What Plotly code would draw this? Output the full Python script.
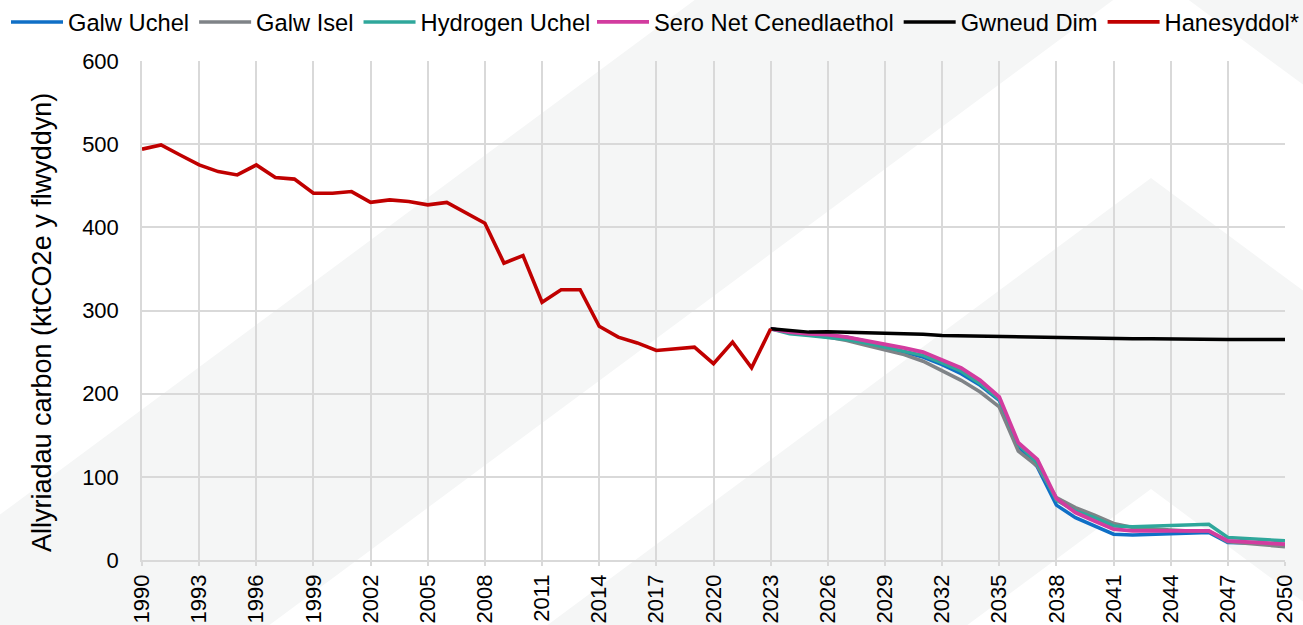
import plotly.graph_objects as go

# ---- data -------------------------------------------------------------
hist_years = list(range(1990, 2024))
hanesyddol = [494, 499, 487, 475, 467, 463, 475, 460, 458, 441,
              441, 443, 430, 433, 431, 427, 430, 417, 405, 357,
              366, 310, 325, 325, 281, 268, 261, 252, 254, 256,
              236, 262, 231, 278]

scen_years = list(range(2023, 2051))
galw_uchel = [278, 274, 272, 270, 268, 263, 256, 250, 244, 235,
              224, 210, 192, 137, 112, 66, 51, 41, 31, 30,
              31, 32, 33, 33, 21, 21, 20, 18]
galw_isel = [278, 274, 271, 268, 264, 258, 253, 247, 239, 227,
             216, 202, 184, 131, 113, 75, 63, 54, 44, 39,
             37, 36, 35, 35, 22, 20, 19, 16]
hydrogen_uchel = [278, 272, 270, 268, 265, 261, 256, 252, 246, 237,
                  227, 212, 193, 139, 117, 72, 59, 51, 41, 40,
                  41, 42, 43, 43, 27, 26, 25, 23]
sero_net = [278, 274, 272, 271, 268, 264, 259, 255, 250, 241,
            231, 216, 196, 141, 121, 74, 57, 47, 37, 35,
            35, 35, 35, 35, 23, 22, 21, 19]
gwneud_dim = [278, 276, 274, 274.5, 274, 273, 272.5, 272, 271.5, 270,
              269.5, 269, 268.5, 268, 267.5, 267, 266.5, 266, 266, 266,
              266, 265.5, 265.5, 265, 265, 265, 265, 265]

x_ticks = list(range(1990, 2051, 3))

# (name, x, y, colour, width, legend box)
series = [
    ("Galw Uchel", scen_years, galw_uchel, "#0f6fc6", 3.5, "legend"),
    ("Galw Isel", scen_years, galw_isel, "#7f8387", 3.5, "legend"),
    ("Hydrogen Uchel", scen_years, hydrogen_uchel, "#2fa79b", 3.5, "legend"),
    ("Sero Net Cenedlaethol", scen_years, sero_net, "#d23c9f", 3.8, "legend2"),
    ("Gwneud Dim", scen_years, gwneud_dim, "#000000", 3.5, "legend2"),
    ("Hanesyddol*", hist_years, hanesyddol, "#c00000", 3.6, "legend2"),
]

# ---- canvas geometry ----------------------------------------------------
W, H = 1303, 625
ML, MR, MT, MB = 142, 18, 61, 65
PW, PH = W - ML - MR, H - MT - MB


def to_paper(px, py):
    return (px - ML) / PW, (H - MB - py) / PH


def chevron(apex_x, apex_y, slope=1.35, bottom=900):
    """Filled upward chevron triangle, pixel coordinates -> paper path."""
    pts = [(apex_x, apex_y),
           (apex_x + slope * (bottom - apex_y), bottom),
           (apex_x - slope * (bottom - apex_y), bottom)]
    pp = [to_paper(x, y) for x, y in pts]
    return "M" + " L".join(f"{x:.5f},{y:.5f}" for x, y in pp) + " Z"


# faint stacked-chevron watermark behind the chart
GREY_BG = "#f5f6f6"
watermark = [(-338, GREY_BG), (-28, "#ffffff"), (178, GREY_BG), (489, "#ffffff")]
shapes = [dict(type="path", xref="paper", yref="paper", path=chevron(1151, ay),
               fillcolor=c, line=dict(width=0), layer="below")
          for ay, c in watermark]

# ---- figure -------------------------------------------------------------
fig = go.Figure()
for name, xs, ys, color, width, leg in series:
    fig.add_trace(go.Scatter(x=xs, y=ys, name=name, mode="lines", legend=leg,
                             line=dict(color=color, width=width)))

FONT = "Liberation Sans, Arial, sans-serif"
GRID = "#d9d9d9"
LEG_FONT = dict(size=23.7, family=FONT, color="#000000")


def legend_box(left_px):
    return dict(orientation="h", x=(left_px - ML) / PW, xanchor="left",
                y=1 + MT / PH, yanchor="top", font=LEG_FONT,
                itemwidth=52, bgcolor="rgba(0,0,0,0)", tracegroupgap=0)


fig.update_layout(
    width=W, height=H,
    margin=dict(l=ML, r=MR, t=MT, b=MB, pad=0, autoexpand=False),
    paper_bgcolor="#ffffff",
    plot_bgcolor="rgba(0,0,0,0)",
    font=dict(family=FONT, color="#000000"),
    shapes=shapes,
    showlegend=True,
    legend=legend_box(6),
    legend2=legend_box(592),
    xaxis=dict(range=[1990, 2050], tickmode="array", tickvals=x_ticks,
               ticktext=[str(v) for v in x_ticks], tickangle=-90,
               tickfont=dict(size=22, family=FONT, color="#000000"),
               showgrid=True, gridcolor=GRID, gridwidth=1.5,
               showline=True, linecolor=GRID, linewidth=1.5,
               ticks="outside", ticklen=4, tickcolor=GRID, tickwidth=1.5,
               zeroline=False, automargin=False),
    yaxis=dict(range=[0, 600], dtick=100,
               tickfont=dict(size=22, family=FONT, color="#000000"),
               showgrid=True, gridcolor=GRID, gridwidth=1.5,
               showline=True, linecolor=GRID, linewidth=1.5,
               ticks="", ticklabelstandoff=17, zeroline=False,
               automargin=False),
    annotations=[dict(text="Allyriadau carbon (ktCO2e y flwyddyn)",
                      xref="paper", yref="paper",
                      x=to_paper(42, 0)[0], y=to_paper(0, 323)[1],
                      xanchor="center", yanchor="middle", textangle=-90,
                      showarrow=False,
                      font=dict(size=27, family=FONT, color="#000000"))],
)

fig.write_html("out.html")
